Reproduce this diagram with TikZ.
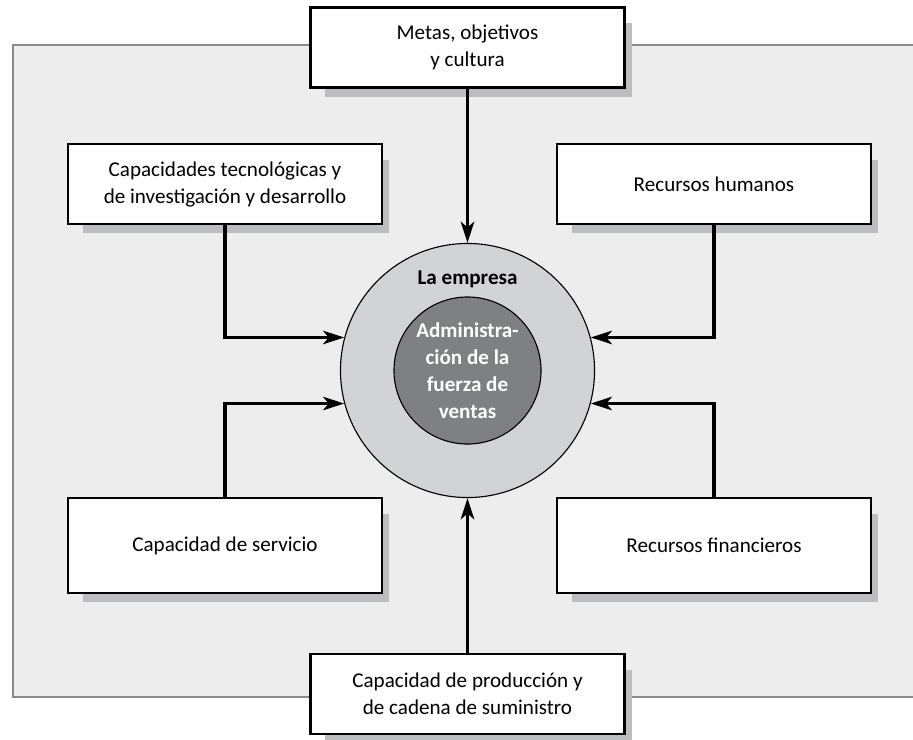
\documentclass[tikz,border=0pt]{standalone}
\usepackage{fontspec}
\setmainfont{Carlito}
\usetikzlibrary{arrows.meta,backgrounds}
\definecolor{fondo}{HTML}{EDEDED}
\definecolor{borde}{HTML}{8A8A8A}
\definecolor{sombra}{HTML}{BCBDC0}
\definecolor{anillo}{HTML}{D2D3D5}
\definecolor{nucleo}{HTML}{7F8083}
\begin{document}
\begin{tikzpicture}[x=0.025cm,y=-0.025cm,
  caja/.style={draw, line width=1.8pt, fill=white, minimum width=7.85cm, minimum height=2cm, align=center, font=\fontsize{15}{19.2}\selectfont},
  flecha/.style={line width=2.6pt, -{Stealth[length=15pt,width=9.5pt,inset=4pt]}}]
\useasboundingbox (0,0) rectangle (913,739);
\node[caja] (meta) at (467.5,47.5) {Metas, objetivos\\y cultura};
\node[caja] (tec) at (225,184) {Capacidades tecnológicas y\\de investigación y desarrollo};
\node[caja] (rh) at (714,184) {Recursos humanos};
\node[caja, minimum height=2.375cm] (serv) at (225,545.5) {Capacidad de servicio};
\node[caja, minimum height=2.375cm] (rf) at (714,545.5) {Recursos financieros};
\node[caja] (prod) at (467.5,694) {Capacidad de producción y\\de cadena de suministro};

\node[draw, circle, line width=0.8pt, fill=anillo, minimum size=6.35cm] (empresa) at (467.5,370.5) {};
\node[font=\bfseries\fontsize{15}{19.2}\selectfont] (empresatxt) at (467.5,279) {La empresa};
\node[draw, circle, line width=0.8pt, fill=nucleo, minimum size=3.675cm, inner sep=0pt, align=center, text=white, font=\bfseries\fontsize{15}{19.2}\selectfont] (admin) at (467.5,370.5) {Administra-\\ción de la\\fuerza de\\ventas};

\path[draw,flecha] (meta) -- (empresa);
\path[draw,flecha] (prod) -- (empresa);
\path[draw,flecha] (tec.south) |- (empresa.165);
\path[draw,flecha] (serv.north) |- (empresa.195);
\path[draw,flecha] (rh.south) |- (empresa.15);
\path[draw,flecha] (rf.north) |- (empresa.-15);

\begin{scope}[on background layer]
\fill[fondo] (13,45) rectangle (913,697);
\draw[borde, line width=1.5pt] (913,45) -- (13,45) -- (13,697) -- (913,697);
\foreach \n in {meta,tec,rh,serv,rf,prod}
  \fill[sombra] ([shift={(16,17)}]\n.north west) rectangle ([shift={(6,8)}]\n.south east);
\end{scope}
\end{tikzpicture}
\end{document}
